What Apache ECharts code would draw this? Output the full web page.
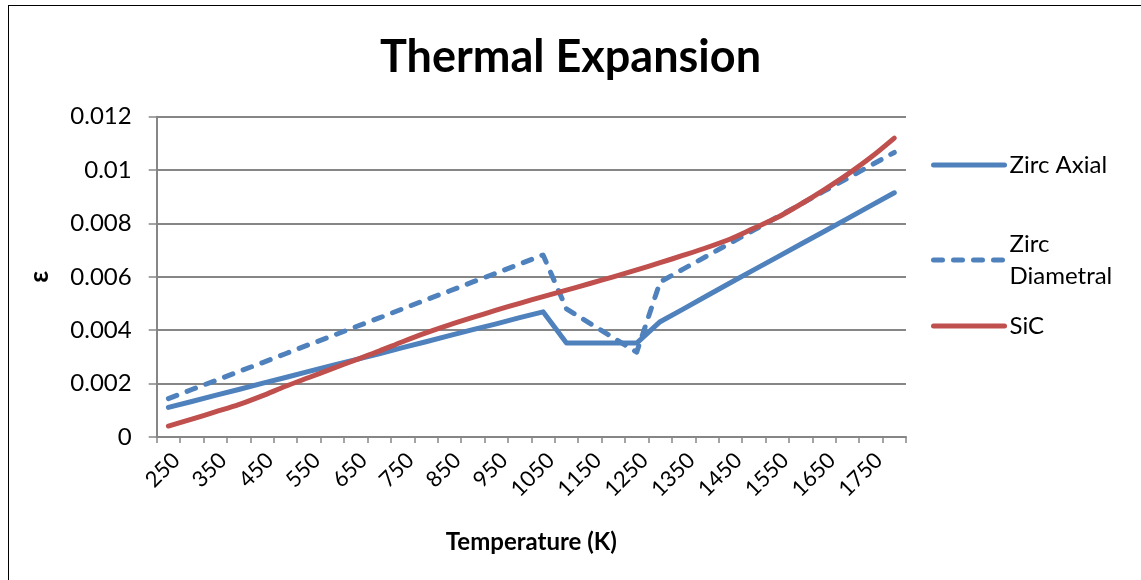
<!DOCTYPE html>
<html>
<head>
<meta charset="utf-8">
<script src="https://cdn.jsdelivr.net/npm/echarts@6/dist/echarts.min.js"></script>
<style>
  html, body { margin: 0; padding: 0; background: #fff; overflow: hidden; }
  #frame { position: absolute; left: 8px; top: 5px; width: 1200px; height: 700px; border: 1px solid #000; box-sizing: border-box; }
  #chart { position: absolute; left: 0; top: 0; width: 1141px; height: 580px; }
</style>
</head>
<body>
<div id="frame"></div>
<div id="chart"></div>
<script>
const temperatures = ['250','300','350','400','450','500','550','600','650','700','750','800','850','900','950','1000',
  '1050','1100','1150','1200','1250','1300','1350','1400','1450','1500','1550','1600','1650','1700','1750','1800'];

const zircAxial = [0.00111,0.00133,0.00156,0.00178,0.00201,0.00223,0.00246,0.00268,0.00290,0.00312,0.00335,0.00357,
  0.00380,0.00402,0.00424,0.00447,0.00469,0.00352,0.00352,0.00352,0.00352,0.00432,0.00480,0.00529,0.00578,0.00626,
  0.00674,0.00722,0.00770,0.00818,0.00867,0.00915];

const zircDiametral = [0.00144,0.00178,0.00211,0.00245,0.00278,0.00312,0.00346,0.00379,0.00413,0.00446,0.00480,0.00514,
  0.00547,0.00581,0.00614,0.00648,0.00682,0.00480,0.00426,0.00372,0.00318,0.00581,0.00630,0.00678,0.00727,0.00775,
  0.00824,0.00872,0.00921,0.00969,0.01018,0.01066];

const sic = [0.00041,0.00067,0.00094,0.00121,0.00154,0.00190,0.00223,0.00256,0.00289,0.00322,0.00357,0.00390,
  0.00420,0.00448,0.00475,0.00501,0.00526,0.00550,0.00575,0.00600,0.00626,0.00653,0.00681,0.00710,0.00742,0.00782,
  0.00822,0.00872,0.00926,0.00984,0.01048,0.01120];

const seriesNames = ['Zirc Axial', 'Zirc Diametral', 'SiC'];
const FONT = 'Lato, "Open Sans", sans-serif';
const LW = 5;

const chart = echarts.init(document.getElementById('chart'), null, { renderer: 'canvas' });
const legendBase = {
  orient: 'vertical', left: 926, itemWidth: 71, itemHeight: 14, itemGap: 0,
  itemStyle: { opacity: 0 },
  lineStyle: { width: LW, cap: 'round' },
  textStyle: { fontFamily: FONT, fontSize: 24, color: '#000' }
};
chart.setOption({
  animation: false,
  backgroundColor: 'transparent',
  title: {
    text: 'Thermal Expansion', left: 'center', top: 30,
    textStyle: { fontFamily: FONT, fontSize: 45, fontWeight: 'bold', color: '#000' }
  },
  legend: [
    Object.assign({}, legendBase, { data: [seriesNames[0]], top: 148 }),
    Object.assign({}, legendBase, { data: [seriesNames[1]], top: 207,
      formatter: function () { return 'Zirc\nDiametral'; },
      textStyle: { fontFamily: FONT, fontSize: 24, color: '#000', lineHeight: 32, padding: [32, 0, 0, 0] } }),
    Object.assign({}, legendBase, { data: [seriesNames[2]], top: 309 })
  ],
  grid: { left: 156.7, right: 235, top: 116.7, bottom: 143, containLabel: false },
  xAxis: {
    type: 'category', data: temperatures, boundaryGap: true,
    name: 'Temperature (K)', nameLocation: 'middle', nameGap: 93,
    nameTextStyle: { fontFamily: FONT, fontSize: 24, fontWeight: 'bold', color: '#000' },
    axisLine: { lineStyle: { color: '#868686', width: 2 } },
    axisTick: { show: true, interval: 0, length: 6, lineStyle: { color: '#868686', width: 1.5 } },
    axisLabel: { interval: 1, rotate: 45, margin: 12, verticalAlign: 'top',
      fontFamily: FONT, fontSize: 22, color: '#000' },
    splitLine: { show: false }
  },
  yAxis: {
    type: 'value', min: 0, max: 0.012, interval: 0.002,
    name: 'ε', nameLocation: 'middle', nameGap: 104, nameRotate: 90,
    nameTextStyle: { fontFamily: FONT, fontSize: 26, fontWeight: 'bold', color: '#000' },
    axisLine: { show: true, lineStyle: { color: '#868686', width: 2 } },
    axisTick: { show: true, length: 8, lineStyle: { color: '#868686', width: 1.5 } },
    axisLabel: { margin: 25, fontFamily: FONT, fontSize: 24, color: '#000',
      formatter: function (v) { return String(+v.toFixed(3)); } },
    splitLine: { show: true, lineStyle: { color: '#868686', width: 2 } }
  },
  series: [
    { name: seriesNames[0], type: 'line', data: zircAxial, showSymbol: false, symbol: 'none',
      lineStyle: { color: '#4f81bd', width: LW, cap: 'round', join: 'round' }, itemStyle: { color: '#4f81bd' } },
    { name: seriesNames[1], type: 'line', data: zircDiametral, showSymbol: false, symbol: 'none',
      lineStyle: { color: '#4f81bd', width: LW, type: [9, 11], cap: 'round', join: 'round' }, itemStyle: { color: '#4f81bd' } },
    { name: seriesNames[2], type: 'line', data: sic, showSymbol: false, symbol: 'none', smooth: 0.3,
      lineStyle: { color: '#c0504d', width: LW, cap: 'round', join: 'round' }, itemStyle: { color: '#c0504d' } }
  ]
});
</script>
</body>
</html>
